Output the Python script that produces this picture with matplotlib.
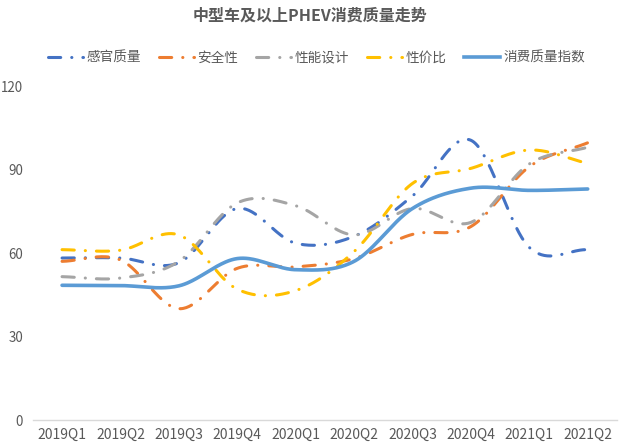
import numpy as np
import matplotlib
matplotlib.use("Agg")
import matplotlib.pyplot as plt
from matplotlib.lines import Line2D

plt.rcParams['font.family'] = ['Noto Sans CJK SC', 'DejaVu Sans']

categories = ["2019Q1", "2019Q2", "2019Q3", "2019Q4", "2020Q1", "2020Q2",
              "2020Q3", "2020Q4", "2021Q1", "2021Q2"]
sensory = [58.2, 58.2, 56.5, 76, 63.5, 66, 80.5, 100.5, 62, 61.2]
safety = [57, 57.5, 40, 54.5, 55, 58, 66.7, 69.5, 91, 99.6]
performance = [51.5, 51, 57, 78, 77, 66.5, 76, 71, 92, 98]
value_ratio = [61.2, 61, 66.5, 47, 46.5, 60.5, 85, 90.4, 97, 92.2]
index = [48.4, 48.3, 48.2, 58, 54, 57, 76, 83.3, 82.5, 83]
series_names = ["感官质量", "安全性", "性能设计", "性价比", "消费质量指数"]
colors = ["#4472C4", "#ED7D31", "#A5A5A5", "#FFC000", "#5B9BD5"]
y_ticks = [0, 30, 60, 90, 120]


def smooth(y, n=40):
    y = np.asarray(y, float)
    x = np.arange(len(y), dtype=float)
    ext = np.concatenate([[2 * y[0] - y[1]], y, [2 * y[-1] - y[-2]]])
    xs, ys = [], []
    for i in range(len(y) - 1):
        p0, p1, p2, p3 = ext[i], ext[i + 1], ext[i + 2], ext[i + 3]
        m1 = (p2 - p0) / 2
        m2 = (p3 - p1) / 2
        t = np.linspace(0, 1, n, endpoint=(i == len(y) - 2))
        h00 = 2 * t**3 - 3 * t**2 + 1
        h10 = t**3 - 2 * t**2 + t
        h01 = -2 * t**3 + 3 * t**2
        h11 = t**3 - t**2
        xs.append(x[i] + t)
        ys.append(h00 * p1 + h10 * m1 + h01 * p2 + h11 * m2)
    return np.concatenate(xs), np.concatenate(ys)


fig = plt.figure(figsize=(6.2, 4.47), dpi=100)
ax = fig.add_axes([0.053, 0.0604, 0.942, 0.7472])

dashdot = (0, (4, 3.6, 0.05, 3.6))
data = [sensory, safety, performance, value_ratio]
handles = []
for vals, c, name in zip(data, colors[:4], series_names[:4]):
    xs, ys = smooth(vals)
    ax.plot(xs, ys, color=c, lw=2.2, linestyle=dashdot,
            dash_capstyle='round', solid_capstyle='round', zorder=3)
    handles.append(Line2D([], [], color=c, lw=2.2, linestyle=dashdot,
                          dash_capstyle='round'))
xs, ys = smooth(index)
ax.plot(xs, ys, color=colors[4], lw=2.6, solid_capstyle='round', zorder=4)
handles.append(Line2D([], [], color=colors[4], lw=2.6))

ax.set_xlim(-0.5, len(categories) - 0.5)
ax.set_ylim(0, 120)
ax.set_yticks(y_ticks)
ax.set_xticks(range(len(categories)))
ax.set_xticklabels(categories)
for s in ["top", "right", "left"]:
    ax.spines[s].set_visible(False)
ax.spines["bottom"].set_color("#D9D9D9")
ax.spines["bottom"].set_linewidth(1)
ax.tick_params(axis='both', length=0, labelsize=10, colors="#595959")
ax.tick_params(axis='y', pad=7, labelsize=9.6)
ax.tick_params(axis='x', pad=6)

fig.text(0.5, 0.965, "中型车及以上PHEV消费质量走势", ha='center', va='center',
         fontsize=11.5, fontweight='bold', color="#595959")
fig.legend(handles, series_names, loc='center', bbox_to_anchor=(0.51, 0.871),
           ncol=5, frameon=False, fontsize=9.8, handlelength=2.6,
           columnspacing=1.3, handletextpad=0.25, labelcolor="#595959")

fig.savefig("out.png", dpi=100)
